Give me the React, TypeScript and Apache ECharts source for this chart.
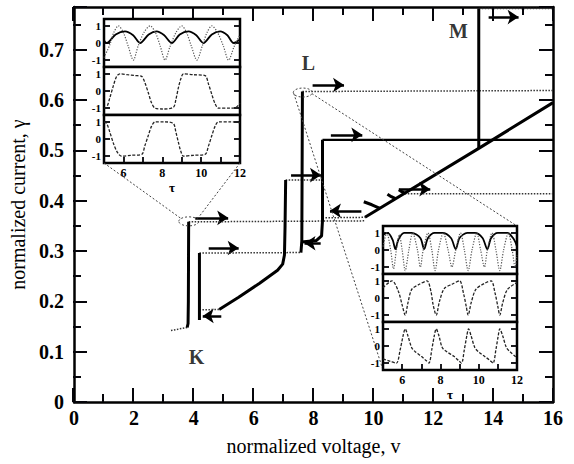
import React, { useEffect, useRef } from "react";
import * as echarts from "echarts";

// ---------- main I-V data (v, gamma) ----------
const thickK1 = [[3.78, 0.148], [3.81, 0.156], [3.82, 0.2], [3.83, 0.358]];
const thickK2 = [[4.19, 0.163], [4.19, 0.296]];
const thickRamp = [[4.85, 0.184], [5.5, 0.208], [6.2, 0.236], [6.8, 0.262], [6.97, 0.274], [7.03, 0.292], [7.05, 0.35], [7.07, 0.441]];
const thickL = [[7.58, 0.297], [7.61, 0.32], [7.63, 0.617]];
const thickD = [[7.6, 0.318], [8.1, 0.321], [8.27, 0.33], [8.3, 0.36], [8.3, 0.521]];
const thickTop = [[8.3, 0.521], [16, 0.521]];
const thickDiag = [[9.72, 0.367], [13.52, 0.504], [16, 0.595]];
const thickM = [[13.52, 0.504], [13.52, 0.782]];
const hook1 = [[9.68, 0.398], [9.95, 0.392], [10.22, 0.385]];
const hook2 = [[10.47, 0.413], [10.6, 0.408], [10.74, 0.404]];
const hook3 = [[10.85, 0.422], [10.95, 0.418], [11.04, 0.415]];

const dotTailK = [[3.24, 0.142], [3.5, 0.145], [3.78, 0.148]];
const dotK = [[3.83, 0.358], [9.72, 0.36]];
const dotK2Top = [[4.19, 0.296], [7.6, 0.297]];
const dotK2Bot = [[4.19, 0.183], [4.85, 0.184]];
const dotRampTop = [[7.07, 0.441], [8.3, 0.441]];
const dotDiagBack = [[8.3, 0.366], [9.72, 0.367]];
const dotL = [[7.63, 0.617], [16, 0.619]];
const dotF = [[11.05, 0.414], [16, 0.414]];
const dotM = [[13.52, 0.782], [16, 0.782]];

// arrows: [v1, g1, v2, g2]
const arrows = [
  [4.05, 0.366, 5.15, 0.366],
  [4.5, 0.306, 5.5, 0.306],
  [4.92, 0.171, 4.3, 0.171],
  [7.25, 0.451, 8.25, 0.451],
  [8.24, 0.3155, 7.7, 0.3155],
  [7.97, 0.63, 9.02, 0.63],
  [8.58, 0.531, 9.63, 0.531],
  [9.6, 0.38, 8.55, 0.38],
  [10.85, 0.423, 11.9, 0.423],
  [13.85, 0.765, 14.85, 0.765],
];

const pointLabels = [["K", 4.09, 0.09], ["L", 7.83, 0.674], ["M", 12.84, 0.737]];
const zoomPoints = [[3.86, 0.359], [7.66, 0.615]];

// main axis ranges / tick steps
const xMin = 0, xMax = 16, xStep = 2;
const yMin = 0, yMax = 0.785, yStep = 0.1;

// ---------- inset data (tau, value) ----------
const insetTauMin = 5, insetTauMax = 12;
const insetYTicks = [-1, 0, 1];

const k1Solid = [[5.0, 0.15], [5.14, 0], [5.6, 0.5], [6.08, 0.68], [6.5, 0.45], [6.86, 0], [7.3, 0.5], [7.71, 0.68], [8.1, 0.45], [8.49, 0], [8.9, 0.5], [9.35, 0.68], [9.75, 0.45], [10.12, 0], [10.55, 0.5], [10.98, 0.68], [11.35, 0.45], [11.67, 0], [12.0, 0.2]];
const k1Dotted = [[5.0, -0.85], [5.3, -0.1], [5.5, 0.6], [5.74, 1.0], [6.0, 0.6], [6.25, -0.2], [6.51, -1.0], [6.75, -0.2], [7.05, 0.6], [7.37, 1.0], [7.65, 0.6], [7.9, -0.2], [8.14, -1], [8.4, -0.2], [8.7, 0.6], [9.0, 1.0], [9.25, 0.6], [9.5, -0.2], [9.78, -1], [10.05, -0.2], [10.3, 0.6], [10.55, 1.0], [10.85, 0.6], [11.15, -0.2], [11.41, -1], [11.7, -0.2], [12.0, 0.5]];
const k1Mid = [[5.0, -1.0], [5.14, -0.95], [5.3, -0.4], [5.48, 0.3], [5.65, 0.85], [5.82, 1.0], [6.2, 0.95], [6.6, 0.9], [6.94, 0.85], [7.1, 0.5], [7.28, -0.1], [7.45, -0.7], [7.63, -1.0], [8.0, -1.05], [8.57, -0.95], [8.7, -0.5], [8.83, 0.2], [8.95, 0.7], [9.09, 1.0], [9.6, 0.95], [10.2, 0.9], [10.38, 0.4], [10.55, -0.2], [10.72, -0.75], [10.89, -1.0], [11.5, -1.0], [11.8, -0.95], [12.0, -0.7]];
const k1Bot = [[5.0, 1.0], [5.14, 0.9], [5.3, 0.4], [5.5, -0.3], [5.7, -0.8], [5.9, -1.0], [6.4, -0.95], [6.94, -0.9], [7.1, -0.4], [7.28, 0.2], [7.45, 0.75], [7.63, 1.0], [8.1, 1.0], [8.57, 0.9], [8.7, 0.4], [8.83, -0.2], [8.95, -0.7], [9.09, -1.0], [9.6, -0.95], [10.2, -0.9], [10.38, -0.4], [10.55, 0.2], [10.72, 0.75], [10.89, 1.0], [11.5, 1.0], [12.0, 0.95]];

const l1Solid = [[5.0, 0.9], [5.25, 1.0], [5.5, 0.6], [5.65, 0.05], [5.8, 0.6], [6.1, 1.0], [6.5, 1.0], [6.95, 0.7], [7.15, 0.05], [7.35, 0.7], [7.7, 1.0], [8.1, 1.0], [8.55, 0.7], [8.8, 0.05], [9.0, 0.7], [9.4, 1.0], [9.8, 1.0], [10.2, 0.7], [10.45, 0.05], [10.65, 0.7], [11.0, 1.0], [11.5, 1.0], [11.85, 0.6], [12.0, 0.2]];
const l1Dotted = [[5.0, 0.2], [5.2, 1.0], [5.4, 0.0], [5.55, -1.1], [5.7, 0.0], [5.85, 0.9], [6.0, 0.0], [6.16, -1.2], [6.35, 0.0], [6.55, 1.0], [6.8, 0.0], [6.95, -1.0], [7.1, 0.0], [7.35, 1.0], [7.55, 0.0], [7.72, -1.2], [7.9, 0.0], [8.15, 1.0], [8.4, 0.0], [8.6, -1.0], [8.8, 0.0], [9.05, 1.0], [9.25, 0.0], [9.45, -1.2], [9.65, 0.0], [9.9, 1.0], [10.1, 0.0], [10.3, -1.0], [10.45, 0.0], [10.7, 1.0], [10.9, 0.0], [11.1, -1.2], [11.3, 0.0], [11.55, 1.0], [11.75, 0.0], [11.9, -1.0], [12.0, -0.3]];
const l1Mid = [[5.0, 0.6], [5.47, 1.0], [5.8, 0.4], [6.0, -0.4], [6.16, -1.0], [6.3, -0.3], [6.5, 0.5], [6.9, 0.8], [7.3, 1.0], [7.5, 0.4], [7.62, -0.4], [7.78, -1.0], [7.95, -0.2], [8.2, 0.55], [8.6, 0.8], [9.0, 1.0], [9.2, 0.3], [9.35, -0.5], [9.45, -1.0], [9.6, -0.3], [9.85, 0.5], [10.3, 0.85], [10.65, 1.0], [10.85, 0.3], [11.0, -0.5], [11.1, -1.0], [11.25, -0.3], [11.5, 0.5], [12.0, 0.9]];
const l1Bot = [[5.0, -0.75], [5.4, -0.9], [5.7, -1.0], [5.9, -0.2], [6.05, 0.6], [6.16, 1.0], [6.3, 0.6], [6.5, -0.1], [6.7, -0.35], [7.0, -0.6], [7.25, -0.85], [7.4, -1.0], [7.55, -0.2], [7.68, 0.6], [7.78, 1.0], [7.92, 0.6], [8.1, -0.1], [8.35, -0.35], [8.7, -0.6], [8.95, -0.85], [9.1, -1.0], [9.25, -0.2], [9.38, 0.6], [9.47, 1.0], [9.6, 0.6], [9.8, -0.1], [10.0, -0.35], [10.3, -0.6], [10.6, -0.85], [10.75, -1.0], [10.9, -0.2], [11.02, 0.6], [11.1, 1.0], [11.25, 0.6], [11.45, -0.1], [11.65, -0.35], [11.9, -0.6], [12.0, -0.7]];

// ---------- layout ----------
const W = 574, H = 464;
const FONT = "'Liberation Serif', 'DejaVu Serif', serif";
const INK = "#05050a";
const MAIN = { left: 73, right: 21, top: 7, bottom: 62 };
const insetBoxes = [
  { left: 104, top: 19, width: 136, height: 144 },
  { left: 383, top: 226, width: 134, height: 144 },
];
const insetPanels = [
  [{ d: k1Solid, k: "solid" }, { d: k1Dotted, k: "dot" }],
  [{ d: k1Mid, k: "dash" }],
  [{ d: k1Bot, k: "dash" }],
  [{ d: l1Solid, k: "solid" }, { d: l1Dotted, k: "dot" }],
  [{ d: l1Mid, k: "dash" }],
  [{ d: l1Bot, k: "dash" }],
];

function mainToPx(p: number[]) {
  const w = W - MAIN.left - MAIN.right;
  const h = H - MAIN.top - MAIN.bottom;
  return [
    MAIN.left + ((p[0] - xMin) / (xMax - xMin)) * w,
    MAIN.top + h - ((p[1] - yMin) / (yMax - yMin)) * h,
  ];
}

// main chart: frame, labels, titles and all curves
function buildMainOption() {
  const line = { show: true, onZero: false, lineStyle: { color: "#000", width: 2.5 } };
  const mainLabel = { show: true, color: "#000", fontFamily: FONT, fontSize: 20, fontWeight: "bold" };
  const base = { type: "value", splitLine: { show: false }, axisTick: { show: false } };
  const xAxis: any[] = [
    {
      ...base, gridIndex: 0, min: xMin, max: xMax, interval: xStep, position: "bottom", axisLine: line,
      axisLabel: { ...mainLabel, margin: 6 },
      name: "normalized voltage, v", nameLocation: "middle", nameGap: 34,
      nameTextStyle: { color: "#000", fontFamily: FONT, fontSize: 20 },
    },
    { ...base, gridIndex: 0, min: xMin, max: xMax, interval: xStep, position: "top", axisLine: line, axisLabel: { show: false } },
  ];
  const yAxis: any[] = [
    {
      ...base, gridIndex: 0, min: yMin, max: yMax, interval: yStep, position: "left", axisLine: line,
      axisLabel: {
        ...mainLabel, margin: 10,
        formatter: (v: number) => {
          const r = Math.round(v * 10) / 10;
          if (Math.abs(r - v) > 1e-6) return "";
          return r === 0 ? "0" : r.toFixed(1);
        },
      },
      name: "normalized current, \u03b3", nameLocation: "middle", nameGap: 46, nameRotate: 90,
      nameTextStyle: { color: "#000", fontFamily: FONT, fontSize: 20 },
    },
    { ...base, gridIndex: 0, min: yMin, max: yMax, interval: yStep, position: "right", axisLine: line, axisLabel: { show: false } },
  ];

  const series: any[] = [];
  const thick = (data: number[][], w = 3) => ({
    type: "line", xAxisIndex: 0, yAxisIndex: 0, data, showSymbol: false,
    lineStyle: { color: "#000", width: w },
  });
  const dotted = (data: number[][]) => ({
    type: "line", xAxisIndex: 0, yAxisIndex: 0, data, showSymbol: false,
    lineStyle: { color: "#333", width: 1.5, type: [1.5, 1.5] },
  });
  [dotTailK, dotK, dotK2Top, dotK2Bot, dotRampTop, dotDiagBack, dotL, dotF, dotM].forEach((d) => series.push(dotted(d)));
  [thickK1, thickK2, thickRamp, thickL, thickD, thickDiag, thickM, hook1, hook2, hook3].forEach((d) => series.push(thick(d)));
  series.push(thick(thickTop, 2.2));
  series.push({
    type: "lines", coordinateSystem: "cartesian2d", xAxisIndex: 0, yAxisIndex: 0,
    symbol: ["none", "arrow"], symbolSize: 11,
    lineStyle: { color: "#000", width: 2.5, opacity: 1 },
    data: arrows.map((a) => ({ coords: [[a[0], a[1]], [a[2], a[3]]] })),
  });
  series.push({
    type: "scatter", xAxisIndex: 0, yAxisIndex: 0, symbolSize: 1, itemStyle: { color: "transparent" },
    data: pointLabels.map((p) => ({ name: p[0], value: [p[1], p[2]] })),
    label: { show: true, position: "inside", formatter: "{b}", color: "#000", fontFamily: FONT, fontSize: 20, fontWeight: "bold" },
  });

  return { animation: false, grid: [{ ...MAIN }], xAxis, yAxis, series };
}

// tick layer: the same main axes, drawing only their inward major / minor ticks
function buildTickOption() {
  const parts = () => ({
    type: "value",
    axisLine: { show: false, onZero: false },
    axisTick: { show: true, inside: true, length: 14, lineStyle: { color: INK, width: 2 } },
    minorTick: { show: true, splitNumber: 2, length: 8, lineStyle: { color: INK, width: 2 } },
    splitLine: { show: false },
    axisLabel: { show: false },
  });
  return {
    animation: false,
    grid: [{ ...MAIN }],
    xAxis: [
      { ...parts(), gridIndex: 0, min: xMin, max: xMax, interval: xStep, position: "bottom" },
      { ...parts(), gridIndex: 0, min: xMin, max: xMax, interval: xStep, position: "top" },
    ],
    yAxis: [
      { ...parts(), gridIndex: 0, min: yMin, max: yMax, interval: yStep, position: "left" },
      { ...parts(), gridIndex: 0, min: yMin, max: yMax, interval: yStep, position: "right" },
    ],
  };
}

function buildInsetOption() {
  const grid: any[] = [];
  const xAxis: any[] = [];
  const yAxis: any[] = [];
  const series: any[] = [];
  const tickStyle = { color: INK, width: 1.8 };
  insetBoxes.forEach((b) => {
    for (let j = 0; j < 3; j++) {
      const h = b.height / 3;
      grid.push({
        left: b.left, top: b.top + j * h, width: b.width, height: h,
        show: true, borderColor: "#000", borderWidth: 2.5, backgroundColor: "#fff",
      });
    }
  });
  for (let g = 0; g < 6; g++) {
    const bottom = g % 3 === 2;
    xAxis.push({
      gridIndex: g, type: "value", min: insetTauMin, max: insetTauMax, interval: 1, position: "bottom",
      show: bottom,
      axisLine: { show: false, onZero: false }, splitLine: { show: false },
      axisTick: { show: true, inside: true, length: 6, lineStyle: tickStyle },
      axisLabel: {
        show: true, color: "#000", fontFamily: FONT, fontSize: 12, fontWeight: "bold", margin: 4,
        formatter: (v: number) => (v % 2 === 0 ? String(v) : ""),
      },
      name: "\u03c4", nameLocation: "middle", nameGap: 18,
      nameTextStyle: { color: "#000", fontFamily: FONT, fontSize: 13, fontWeight: "bold" },
    });
  }
  for (let g = 0; g < 6; g++) {
    yAxis.push({
      gridIndex: g, type: "value", min: -1.4, max: 1.4, position: "left",
      axisLine: { show: false, onZero: false }, splitLine: { show: false },
      axisTick: { show: true, inside: true, length: 6, customValues: insetYTicks, lineStyle: tickStyle },
      axisLabel: { show: true, customValues: insetYTicks, color: "#000", fontFamily: FONT, fontSize: 11, fontWeight: "bold", margin: 3 },
    });
  }
  for (let g = 0; g < 6; g++) {
    yAxis.push({
      gridIndex: g, type: "value", min: -1.4, max: 1.4, position: "right",
      axisLine: { show: false, onZero: false }, splitLine: { show: false },
      axisTick: { show: true, inside: true, length: 6, customValues: insetYTicks, lineStyle: tickStyle },
      axisLabel: { show: false },
    });
  }
  insetPanels.forEach((panel, k) => {
    panel.forEach((s) => {
      const ls =
        s.k === "solid" ? { color: "#000", width: 1.8 } :
        s.k === "dot" ? { color: "#555", width: 1.2, type: [1.2, 1.5] } :
        { color: "#222", width: 1.3, type: [3, 1.6] };
      series.push({
        type: "line", xAxisIndex: k, yAxisIndex: k, data: s.d, showSymbol: false,
        smooth: 0.3, lineStyle: ls,
      });
    });
  });

  const kc = mainToPx(zoomPoints[0]);
  const lc = mainToPx(zoomPoints[1]);
  const thin = () => ({ stroke: "#444", lineWidth: 1, lineDash: [2, 2], fill: "none" });
  const b1 = insetBoxes[0], b2 = insetBoxes[1];
  const graphic = [
    { type: "ellipse", shape: { cx: kc[0], cy: kc[1], rx: 10, ry: 4.5 }, style: thin() },
    { type: "ellipse", shape: { cx: lc[0], cy: lc[1], rx: 9.5, ry: 4.5 }, style: thin() },
    { type: "line", shape: { x1: b1.left, y1: b1.top + b1.height, x2: kc[0] - 8, y2: kc[1] - 3 }, style: thin() },
    { type: "line", shape: { x1: b1.left + b1.width, y1: b1.top + b1.height, x2: kc[0] + 9, y2: kc[1] - 3 }, style: thin() },
    { type: "line", shape: { x1: lc[0] - 9, y1: lc[1] + 1, x2: b2.left, y2: b2.top + b2.height }, style: thin() },
    { type: "line", shape: { x1: lc[0] + 9, y1: lc[1] + 1, x2: b2.left + b2.width, y2: b2.top }, style: thin() },
  ];
  return { animation: false, grid, xAxis, yAxis, series, graphic };
}

export default function App() {
  const mainRef = useRef<HTMLDivElement>(null);
  const tickRef = useRef<HTMLDivElement>(null);
  const insetRef = useRef<HTMLDivElement>(null);
  useEffect(() => {
    document.body.style.margin = "0";
    const main = echarts.init(mainRef.current!, null, { renderer: "svg" });
    main.setOption(buildMainOption() as any);
    const ticks = echarts.init(tickRef.current!, null, { renderer: "svg" });
    ticks.setOption(buildTickOption() as any);
    const inset = echarts.init(insetRef.current!, null, { renderer: "svg" });
    inset.setOption(buildInsetOption() as any);
    return () => {
      main.dispose();
      ticks.dispose();
      inset.dispose();
    };
  }, []);
  const layer = { position: "absolute" as const, left: 0, top: 0, width: W, height: H };
  return (
    <div style={{ position: "relative", width: W, height: H, background: "#fff" }}>
      <div ref={mainRef} style={layer} />
      <div ref={tickRef} style={{ ...layer, pointerEvents: "none" }} />
      <div ref={insetRef} style={{ ...layer, pointerEvents: "none" }} />
    </div>
  );
}
